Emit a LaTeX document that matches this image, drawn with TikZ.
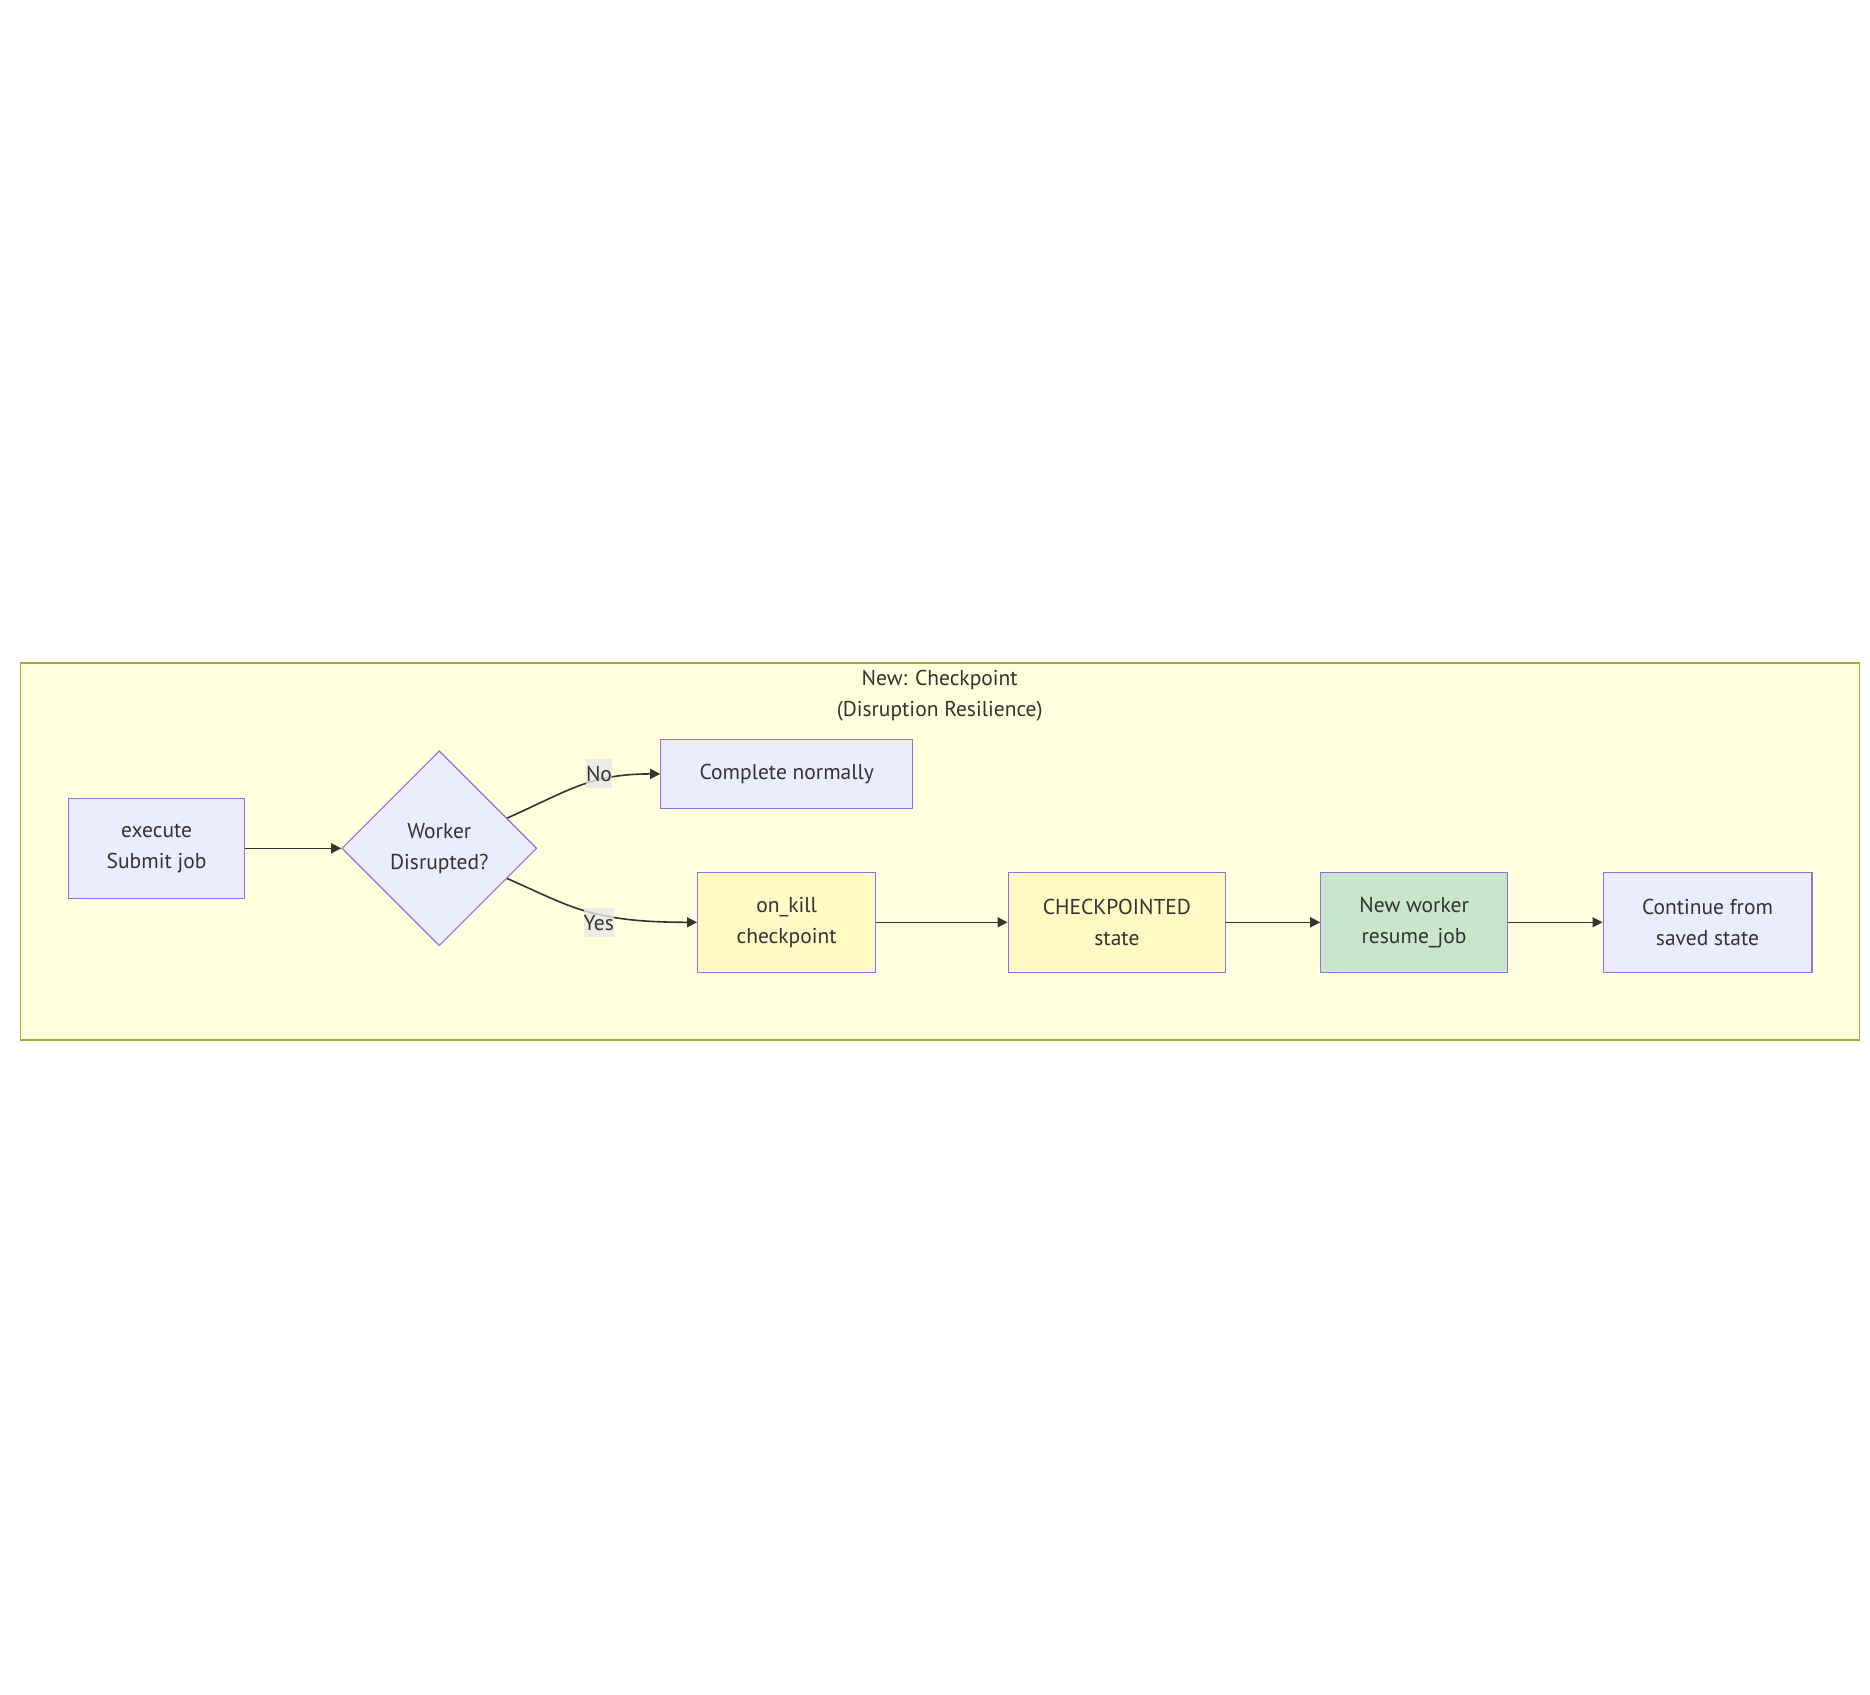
\documentclass[tikz,border=0pt]{standalone}
\usepackage{fontspec}
\setmainfont{PT Sans}
\usetikzlibrary{shapes.geometric,arrows.meta}
\definecolor{clfill}{HTML}{FFFFDE}
\definecolor{cldraw}{HTML}{AAAA33}
\definecolor{ndfill}{HTML}{ECECFF}
\definecolor{nddraw}{HTML}{9370DB}
\definecolor{ylfill}{HTML}{FFF9C4}
\definecolor{grfill}{HTML}{C8E6C9}
\definecolor{edgec}{HTML}{333333}
\definecolor{lblfill}{HTML}{E8E8E8}
\begin{document}
\begin{tikzpicture}[x=1pt,y=-1pt,
  base/.style={font=\fontsize{21.5}{31}\selectfont, text=edgec},
  box/.style={base, rectangle, draw=nddraw, line width=1.2pt, fill=ndfill, inner sep=0pt, align=center, minimum height=100pt},
  dec/.style={base, diamond, aspect=1, draw=nddraw, line width=1.2pt, fill=ndfill, inner sep=0pt, align=center, minimum size=195pt},
  edge/.style={draw=edgec, line width=1.6pt, -{Triangle[length=10pt,width=10pt]}},
  lbl/.style={base, fill=lblfill, fill opacity=0.8, text opacity=1, inner sep=0pt, minimum height=29pt},
]
\fill[white] (0,0) rectangle (1870,1694);
\useasboundingbox (0,0) rectangle (1870,1694);
\node[draw=cldraw, fill=clfill, line width=1.2pt, minimum width=1839pt, minimum height=377pt, inner sep=0pt] (cluster) at (939.7,851.5) {};
\node[base, anchor=base] (t1) at (939.7,685) {New: Checkpoint};
\node[base, anchor=base] (t2) at (939.7,716) {(Disruption Resilience)};
\node[box, minimum width=176pt] (ex) at (156.6,848.3) {execute\\Submit job};
\node[dec] (d) at (439.3,848.3) {Worker\\Disrupted?};
\node[box, minimum width=252pt, minimum height=69.6pt] (cn) at (786.8,773.9) {Complete normally};
\node[box, fill=ylfill, minimum width=178pt] (ok) at (786.6,922.3) {on\_kill\\checkpoint};
\node[box, fill=ylfill, minimum width=217.5pt] (cp) at (1116.9,922.3) {CHECKPOINTED\\state};
\node[box, fill=grfill, minimum width=186.6pt] (nw) at (1414.1,922.3) {New worker\\resume\_job};
\node[box, minimum width=208.8pt] (cf) at (1707.5,922.3) {Continue from\\saved state};
\draw[edge] (ex.east) -- (d.west);
\draw[edge] (d.24) .. controls (570,790) and (590,774) .. (cn.west);
\node[lbl] (no) at (599,773.5) {No};
\draw[edge] (d.-24) .. controls (570,906) and (590,922.3) .. (ok.west);
\node[lbl] (yes) at (598.7,922.7) {Yes};
\draw[edge] (ok.east) -- (cp.west);
\draw[edge] (cp.east) -- (nw.west);
\draw[edge] (nw.east) -- (cf.west);
\end{tikzpicture}
\end{document}
